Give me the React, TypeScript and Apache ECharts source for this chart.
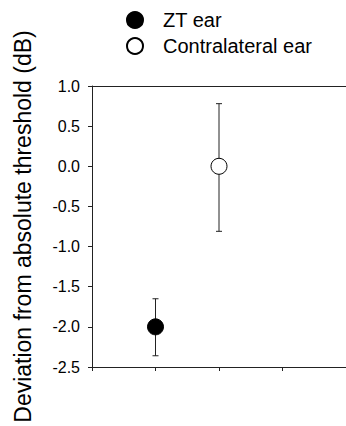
import React, { useEffect, useRef } from "react";
import * as echarts from "echarts";

const seriesNames = ["ZT ear", "Contralateral ear"];
const xPositions = [1, 2];
const means = [-2.0, 0.0];
const errLow = [-2.36, -0.81];
const errHigh = [-1.65, 0.78];
const yTicks = { min: -2.5, max: 1.0, interval: 0.5 };
const yLabel = "Deviation from absolute threshold (dB)";

const FONT = "'Liberation Sans', Arial, sans-serif";

export default function App() {
  const ref = useRef<HTMLDivElement>(null);
  useEffect(() => {
    document.body.style.margin = "0";
    const chart = echarts.init(ref.current!, null, { renderer: "svg" });
    const errData = xPositions.map((x, i) => [x, errLow[i], errHigh[i]]);
    chart.setOption({
      animation: false,
      backgroundColor: "#ffffff",
      textStyle: { fontFamily: FONT, color: "#000" },
      grid: { left: 92, top: 86, width: 256, height: 281, containLabel: false },
      legend: {
        orient: "vertical",
        left: 121,
        top: 5,
        itemWidth: 16,
        itemHeight: 16,
        itemGap: 6,
        icon: "circle",
        textStyle: { fontFamily: FONT, fontSize: 20, color: "#000", padding: [0, 0, 0, 15] },
        data: seriesNames,
      },
      xAxis: [
        {
          type: "value",
          min: 0,
          max: 4,
          interval: 1,
          position: "bottom",
          axisLine: { show: true, onZero: false, lineStyle: { color: "#222", width: 1 } },
          axisTick: { show: true, inside: false, length: 4, lineStyle: { color: "#222" } },
          axisLabel: { show: false },
          splitLine: { show: false },
        },
        {
          type: "value",
          min: 0,
          max: 4,
          interval: 1,
          position: "top",
          axisLine: { show: true, onZero: false, lineStyle: { color: "#222", width: 1 } },
          axisTick: { show: false },
          axisLabel: { show: false },
          splitLine: { show: false },
        },
      ],
      yAxis: {
        type: "value",
        min: yTicks.min,
        max: yTicks.max,
        interval: yTicks.interval,
        name: yLabel,
        nameLocation: "middle",
        nameGap: 58,
        nameTextStyle: { fontFamily: FONT, fontSize: 23, color: "#000" },
        axisLine: { show: true, onZero: false, lineStyle: { color: "#222", width: 1 } },
        axisTick: { show: true, inside: false, length: 4, lineStyle: { color: "#222" } },
        axisLabel: {
          margin: 12,
          fontFamily: FONT,
          fontSize: 16,
          color: "#000",
          formatter: (v: number) => v.toFixed(1),
        },
        splitLine: { show: false },
      },
      series: [
        {
          type: "custom",
          name: "err",
          data: errData,
          z: 1,
          renderItem: (params: any, api: any) => {
            const x = api.value(0);
            const lo = api.coord([x, api.value(1)]);
            const hi = api.coord([x, api.value(2)]);
            const cap = 3;
            const style = { stroke: "#222", lineWidth: 1 };
            return {
              type: "group",
              children: [
                { type: "line", shape: { x1: lo[0], y1: lo[1], x2: hi[0], y2: hi[1] }, style },
                { type: "line", shape: { x1: lo[0] - cap, y1: lo[1], x2: lo[0] + cap, y2: lo[1] }, style },
                { type: "line", shape: { x1: hi[0] - cap, y1: hi[1], x2: hi[0] + cap, y2: hi[1] }, style },
              ],
            };
          },
        },
        {
          type: "scatter",
          name: seriesNames[0],
          symbol: "circle",
          symbolSize: 16,
          z: 3,
          itemStyle: { color: "#000", borderColor: "#000", borderWidth: 1, opacity: 1 },
          data: [[xPositions[0], means[0]]],
        },
        {
          type: "scatter",
          name: seriesNames[1],
          symbol: "circle",
          symbolSize: 16,
          z: 3,
          itemStyle: { color: "#fff", borderColor: "#000", borderWidth: 1, opacity: 1 },
          data: [[xPositions[1], means[1]]],
        },
      ],
    });
    return () => chart.dispose();
  }, []);
  return (
    <div
      ref={ref}
      style={{ position: "absolute", left: 0, top: 0, width: 346, height: 426 }}
    />
  );
}
